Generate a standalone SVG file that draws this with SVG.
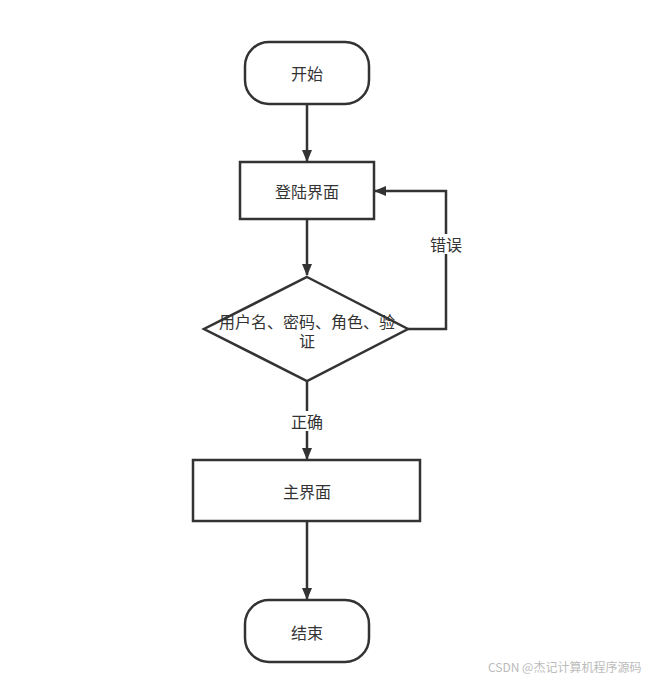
<svg xmlns="http://www.w3.org/2000/svg" width="657" height="680" viewBox="0 0 657 680">
<style>
.s{fill:#fff;stroke:#333;stroke-width:2.5}
.c{fill:none;stroke:#333;stroke-width:2.5}
text{font-family:"Noto Sans CJK SC","Liberation Sans",sans-serif;font-size:16px;fill:#333;text-anchor:middle;dominant-baseline:central}
.w{font-size:12px;fill:#bbb;text-anchor:start}
</style>
<defs>
<marker id="a" markerWidth="12" markerHeight="12" refX="11" refY="5" orient="auto" markerUnits="userSpaceOnUse">
<path d="M0,0 L12,5 L0,10 z" fill="#333"/>
</marker>
</defs>
<rect width="657" height="680" fill="#fff"/>
<g id="connectors">
<line class="c" x1="307" y1="104" x2="307" y2="161" marker-end="url(#a)"/>
<line class="c" x1="307" y1="219" x2="307" y2="275" marker-end="url(#a)"/>
<path class="c" d="M408,329 H446 V191 H375" marker-end="url(#a)"/>
<rect x="429" y="234" width="34" height="20" fill="#fff"/>
<text x="446" y="244">错误</text>
<line class="c" x1="307" y1="381" x2="307" y2="459" marker-end="url(#a)"/>
<rect x="288" y="411" width="38" height="20" fill="#fff"/>
<text x="307" y="421">正确</text>
<line class="c" x1="307" y1="521" x2="307" y2="599" marker-end="url(#a)"/>
</g>
<g id="start">
<rect class="s" x="245" y="42" width="124" height="62" rx="24"/>
<text x="307" y="73">开始</text>
</g>
<g id="login">
<rect class="s" x="240" y="162" width="134" height="57"/>
<text x="307" y="191">登陆界面</text>
</g>
<g id="check">
<polygon class="s" points="307,277 408,329 307,381 204,329"/>
<text x="307" y="321">用户名、密码、角色、验<tspan x="307" dy="19">证</tspan></text>
</g>
<g id="main">
<rect class="s" x="193" y="460" width="227" height="61"/>
<text x="307" y="491">主界面</text>
</g>
<g id="end">
<rect class="s" x="245" y="600" width="124" height="62" rx="24"/>
<text x="307" y="632">结束</text>
</g>
<text class="w" x="488" y="666">CSDN @杰记计算机程序源码</text>
</svg>
